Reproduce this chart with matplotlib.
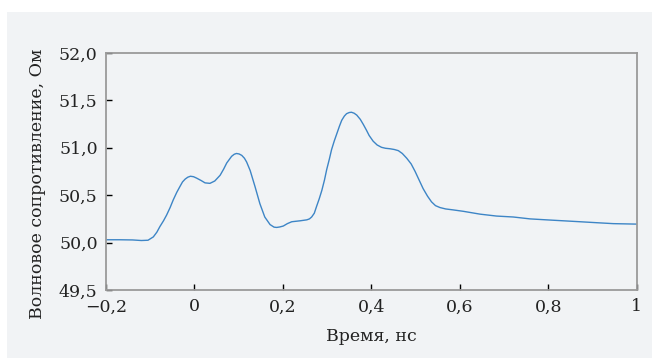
import matplotlib.pyplot as plt
from matplotlib.patches import Rectangle

# time, ns
t_ns = [-0.200, -0.170, -0.140, -0.120, -0.105, -0.093, -0.085, -0.078, -0.070,
        -0.063, -0.055, -0.048, -0.040, -0.033, -0.027, -0.021, -0.015, -0.009,
        -0.002, 0.005, 0.015, 0.024, 0.035, 0.046, 0.052, 0.058, 0.066, 0.073,
        0.084, 0.090, 0.095, 0.101, 0.107, 0.113, 0.118, 0.126, 0.137, 0.148,
        0.159, 0.171, 0.180, 0.186, 0.193, 0.201, 0.210, 0.220, 0.239, 0.254,
        0.260, 0.265, 0.271, 0.276, 0.282, 0.288, 0.294, 0.299, 0.305, 0.310,
        0.316, 0.322, 0.328, 0.333, 0.339, 0.344, 0.350, 0.355, 0.361, 0.367,
        0.375, 0.382, 0.389, 0.395, 0.404, 0.413, 0.423, 0.432, 0.442, 0.452,
        0.461, 0.470, 0.480, 0.490, 0.499, 0.508, 0.517, 0.527, 0.536, 0.545,
        0.555, 0.568, 0.585, 0.608, 0.646, 0.683, 0.721, 0.759, 0.796, 0.834,
        0.872, 0.909, 0.947, 1.000]

# wave impedance, Ohm
z_ohm = [50.030, 50.030, 50.028, 50.022, 50.025, 50.060, 50.110, 50.170, 50.230,
         50.290, 50.370, 50.450, 50.530, 50.590, 50.640, 50.670, 50.690, 50.700,
         50.695, 50.680, 50.655, 50.630, 50.625, 50.650, 50.680, 50.710, 50.775,
         50.840, 50.910, 50.932, 50.940, 50.935, 50.920, 50.890, 50.850, 50.760,
         50.590, 50.410, 50.270, 50.190, 50.163, 50.160, 50.165, 50.175, 50.200,
         50.220, 50.230, 50.240, 50.250, 50.270, 50.310, 50.380, 50.460, 50.550,
         50.660, 50.770, 50.880, 50.980, 51.070, 51.150, 51.230, 51.290, 51.335,
         51.360, 51.372, 51.375, 51.365, 51.345, 51.300, 51.245, 51.185, 51.130,
         51.070, 51.030, 51.005, 50.995, 50.990, 50.982, 50.970, 50.940, 50.890,
         50.830, 50.750, 50.660, 50.570, 50.490, 50.430, 50.390, 50.370, 50.355,
         50.345, 50.330, 50.300, 50.280, 50.270, 50.250, 50.240, 50.230, 50.220,
         50.210, 50.200, 50.195]

x_ticks = [-0.2, 0, 0.2, 0.4, 0.6, 0.8, 1]
x_tick_labels = ["\u22120,2", "0", "0,2", "0,4", "0,6", "0,8", "1"]
y_ticks = [49.5, 50.0, 50.5, 51.0, 51.5, 52.0]
y_tick_labels = ["49,5", "50,0", "50,5", "51,0", "51,5", "52,0"]

bg = "#f1f3f5"
plt.rcParams["font.family"] = ["DejaVu Serif"]

fig = plt.figure(figsize=(6.52, 3.6), dpi=100)
# light panel behind everything, leaving a thin white margin top and left
fig.patches.append(Rectangle((7 / 652, 2 / 360), 1 - 7 / 652, 346 / 360,
                             transform=fig.transFigure, facecolor=bg,
                             edgecolor="none", zorder=-10))

ax = fig.add_axes([106 / 652, 70 / 360, 530.7 / 652, 237 / 360])
ax.set_facecolor(bg)
ax.plot(t_ns, z_ohm, color="#3d85c6", linewidth=1.0)

ax.set_xlim(-0.2, 1.0)
ax.set_ylim(49.5, 52.0)
ax.set_xticks(x_ticks, x_tick_labels)
ax.set_yticks(y_ticks, y_tick_labels)

for s in ax.spines.values():
    s.set_color("#9a9a9a")
    s.set_linewidth(1.3)

ax.tick_params(direction="in", length=4, width=1, color="black",
               labelsize=12.5, labelcolor="#222222", pad=6)

ax.set_xlabel("Время, нс", fontsize=12.5, color="#222222")
ax.set_ylabel("Волновое сопротивление, Ом", fontsize=12.5, color="#222222")
ax.xaxis.set_label_coords(0.5, -0.16)
ax.yaxis.set_label_coords(-0.13, 0.447)
ax.yaxis.label.set_va("center")

fig.savefig("out.png", dpi=100)
